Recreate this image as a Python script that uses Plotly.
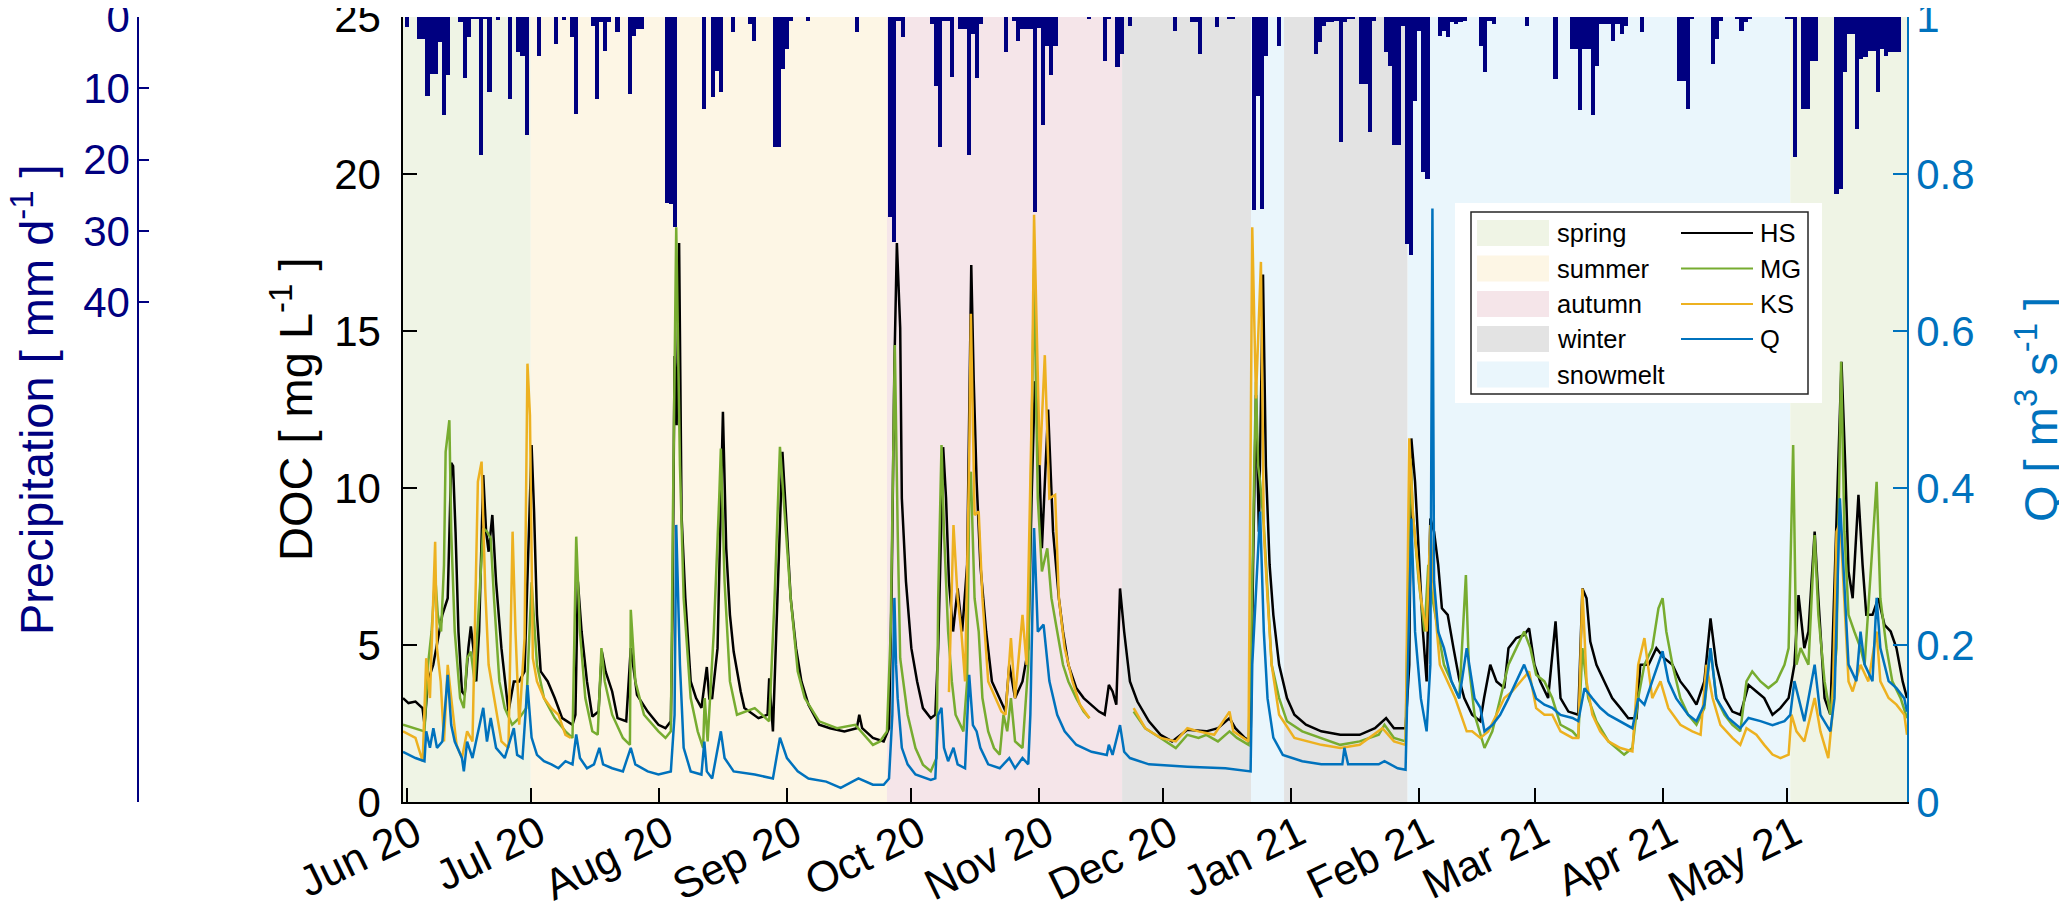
import pandas as pd
import plotly.graph_objects as go

START = pd.Timestamp("2020-06-01")   # day 0 of every *_day list below
PAGE_W, PAGE_H = 2067, 904
BODY = 8                             # default <body> margin of the html page
W, H = PAGE_W - BODY, PAGE_H - BODY
FONT = "Liberation Sans, Arial, sans-serif"
NAVY = "#000080"
BLUE = "#0072BD"

# x axis
month_ticks = ["2020-06-01", "2020-07-01", "2020-08-01", "2020-09-01", "2020-10-01", "2020-11-01",
               "2020-12-01", "2021-01-01", "2021-02-01", "2021-03-01", "2021-04-01", "2021-05-01"]
month_labels = ["Jun 20", "Jul 20", "Aug 20", "Sep 20", "Oct 20", "Nov 20",
                "Dec 20", "Jan 21", "Feb 21", "Mar 21", "Apr 21", "May 21"]
x_range_days = [-0.92, 363.05]

# seasons (edges in days since 1 Jun 2020)
season_names = ["spring", "summer", "autumn", "winter", "snowmelt", "winter", "snowmelt", "spring"]
season_edges = [-0.92, 30.0, 116.2, 173.1, 204.3, 212.3, 242.2, 334.8, 363.05]
season_colors = {"spring": "#eff4e5", "summer": "#fdf6e5", "autumn": "#f5e5e9",
                 "winter": "#e3e3e3", "snowmelt": "#eaf6fc"}

# daily precipitation [mm d-1], one value per day from 1 Jun 2020
precip_mm = (
    [1.4, 0, 0, 3.1, 3.1, 11.0, 8.0, 8.0, 3.5, 13.8, 8.1, 0, 0, 0.7, 8.6, 2.8, 0.3, 0.3, 19.4, 0.3,
     10.5, 0, 0.4, 0, 0, 11.5, 0, 4.9, 5.4, 16.6]  # Jun
    + [0, 0, 5.4, 0, 0, 0, 3.8, 0, 0.4, 0, 2.8, 13.6, 0, 0, 0, 1.2, 11.5, 0.7, 4.7, 0.7, 0, 2.1, 0, 0,
       10.8, 2.6, 1.7, 1.7, 0, 0, 0]  # Jul
    + [0, 0, 26.0, 26.2, 29.4, 0, 0, 0, 0, 0, 0, 12.9, 0, 11.2, 7.5, 10.5, 0, 0, 2.1, 0, 0, 0, 1.0, 3.3,
       0, 0, 0, 0, 18.2, 18.2, 7.3]  # Aug
    + [4.5, 0.5, 0, 0, 0, 0.5, 0, 0, 0, 0, 0, 0, 0, 0, 0, 0, 0, 2.1, 0, 0, 0, 0, 0, 0, 0, 28.0, 31.5,
       0.5, 2.8, 0]  # Sep
    + [0, 0, 0, 0, 0, 1.0, 9.6, 18.2, 0.5, 0.5, 8.4, 0, 1.7, 1.7, 19.4, 2.4, 8.6, 1.0, 0, 0, 0, 0, 0,
       4.9, 0, 0.5, 3.3, 1.7, 1.7, 1.7, 27.3]  # Oct
    + [1.5, 15.2, 4.0, 8.1, 4.0, 0, 0, 0, 0, 0, 0, 0, 0.3, 0, 0, 0, 6.1, 0.3, 0, 7.0, 5.2, 0, 1.2, 0, 0,
       0, 0, 0, 0, 0]  # Nov
    + [0, 0, 0, 1.9, 0, 0, 0, 0.7, 0.7, 5.2, 0, 0, 0, 1.4, 0, 0, 0.3, 0.3, 0, 0, 0, 0, 27.1, 11.0, 26.9,
       5.4, 0, 0, 4.0, 0, 0]  # Dec
    + [0, 0, 0, 0, 0, 0, 5.2, 3.5, 1.2, 0.7, 0.7, 0.5, 17.5, 0.7, 0.3, 0.3, 0, 9.4, 9.4, 16.1, 0.5, 0, 0,
       4.9, 6.8, 18.0, 18.0, 1.2, 31.8, 33.4, 11.7]  # Jan
    + [2.0, 21.7, 22.7, 0, 0, 2.6, 1.9, 2.8, 0.7, 1.0, 0.7, 0.5, 0, 0, 0, 4.0, 7.7, 0.5, 1.0, 0, 0, 0, 0,
       0, 0, 0, 1.2, 0]  # Feb
    + [0, 0, 0, 0, 0, 8.7, 0, 0, 0, 4.5, 4.5, 13.1, 4.5, 4.5, 13.8, 6.8, 1.0, 1.0, 1.0, 3.3, 1.0, 2.4,
       1.2, 0, 0, 0, 2.1, 0, 0, 0, 0]  # Mar
    + [0, 0, 0, 0, 8.9, 8.9, 12.9, 0.3, 0, 0, 0, 0, 6.6, 3.1, 0.5, 0, 0, 0, 0.3, 1.9, 0.7, 0.3, 0, 0, 0,
       0, 0, 0, 0, 0]  # Apr
    + [0.3, 0.3, 19.6, 0, 12.9, 12.9, 6.1, 6.1, 0, 0, 0, 0, 24.8, 24.1, 7.7, 2.4, 2.4, 15.7, 5.9, 5.6,
       4.7, 4.7, 10.5, 4.5, 5.4, 4.9, 4.9, 4.9, 0]  # May
)

# DOC HS [mg L-1]
hs_day = [-0.92, 0.4, 2.1, 3.8, 4.3, 5.1, 6.4, 8.6, 9.9, 10.75, 11.2, 11.8, 12.5, 13.35, 14.0, 14.9, 15.5,
          16.1, 16.8, 17.5, 18.5, 19.2, 19.8, 20.7, 21.6, 22.9, 24.6, 25.9, 27.2, 28.5, 30.2, 30.8, 31.5,
          32.4, 34.1, 35.8, 37.6, 40.1, 40.8, 41.4, 42.3, 43.6, 44.9, 46.4, 47.2, 48.1, 49.7, 51.0, 53.1,
          54.2, 55.3, 55.7, 58.3, 60.9, 62.6, 63.9, 64.3, 64.8, 65.3, 65.9, 66.5, 67.4, 68.7, 70.0, 71.3,
          72.6, 73.2, 73.9, 75.2, 76.5, 77.3, 78.2, 79.1, 80.8, 81.7, 85.1, 87.3, 87.7, 88.6, 89.4, 90.9,
          92.0, 92.9, 94.2, 95.5, 97.2, 99.8, 102.4, 105.9, 108.9, 109.5, 110.2, 112.8, 115.4, 116.7,
          117.3, 118.0, 118.6, 119.4, 119.8, 120.8, 122.1, 123.5, 124.9, 126.8, 127.9, 128.6, 129.8,
          130.5, 131.2, 132.2, 133.3, 134.4, 135.6, 136.2, 136.6, 137.2, 137.9, 138.8, 140.2, 141.6,
          143.5, 144.9, 145.8, 147.2, 149.0, 150.4, 151.2, 152.0, 152.7, 153.7, 155.2, 156.4, 157.8,
          158.8, 160.1, 162.0, 163.8, 165.7, 167.5, 168.9, 169.9, 170.8, 171.7, 172.6, 173.6, 175.0,
          176.8, 179.6, 182.4, 185.2, 188.9, 193.5, 196.3, 199.1, 200.5, 202.8, 204.2, 204.8, 205.5,
          206.2, 207.2, 207.9, 208.8, 209.7, 211.1, 213.0, 214.8, 217.6, 221.3, 225.9, 230.6, 234.3,
          237.0, 238.9, 241.7, 242.6, 243.1, 244.0, 244.9, 245.9, 246.8, 247.7, 248.6, 249.6, 250.5,
          251.9, 253.3, 254.7, 255.9, 257.8, 259.8, 260.7, 262.2, 263.7, 265.6, 266.6, 268.5, 270.4,
          271.6, 272.9, 274.3, 276.2, 278.0, 279.2, 281.1, 283.5, 284.5, 285.5, 286.4, 287.9, 289.8,
          291.7, 293.7, 295.6, 297.6, 298.5, 300.5, 302.4, 304.3, 306.3, 308.2, 310.1, 312.1, 314.0,
          315.5, 316.9, 318.9, 320.8, 322.7, 324.7, 326.6, 328.5, 330.5, 332.4, 334.4, 335.8, 336.8,
          338.2, 339.2, 340.7, 341.6, 343.1, 344.5, 346.0, 347.2, 348.1, 348.9, 349.9, 351.3, 352.3,
          353.2, 354.7, 356.1, 357.6, 359.1, 360.5, 362.0, 363.05]
hs_doc = [3.31, 3.15, 3.2, 2.99, 2.46, 3.84, 4.37, 5.96, 6.49, 10.8, 10.7, 8.6, 5.43, 3.52, 3.41, 4.9, 5.59,
          4.9, 3.84, 5.43, 10.41, 8.6, 7.97, 9.14, 7.02, 4.9, 2.88, 3.84, 3.84, 4.16, 11.37, 9.25, 5.96,
          4.16, 3.84, 3.31, 2.67, 2.46, 2.78, 7.02, 5.43, 3.84, 2.72, 2.88, 4.79, 4.16, 3.52, 2.67, 2.57,
          4.9, 3.84, 3.41, 2.88, 2.46, 2.35, 2.57, 6.0, 14.2, 12.0, 17.8, 9.1, 6.5, 3.84, 3.31, 3.0,
          4.3, 3.3, 3.31, 4.9, 12.43, 8.08, 5.96, 4.79, 3.52, 2.99, 2.67, 2.78, 3.94, 2.25, 5.43, 11.15,
          8.6, 6.49, 4.9, 3.84, 3.1, 2.46, 2.35, 2.25, 2.35, 2.78, 2.35, 2.04, 1.93, 2.35,
          6.49, 13.9, 17.8, 15.1, 9.67, 7.02, 4.9, 3.84, 2.99, 2.67, 2.78, 4.9, 11.3,
          9.67, 7.02, 5.43, 6.8, 5.43, 7.55, 12.85, 17.1, 13.4, 10.2, 7.55, 5.43, 3.84,
          3.31, 2.88, 4.37, 3.31, 3.84, 4.9, 9.67, 13.4, 12.5, 8.08, 12.5, 8.61, 6.49,
          5.43, 4.37, 3.63, 3.31, 3.1, 2.88, 2.78, 3.73, 3.52, 3.1, 6.8, 5.43, 3.84,
          3.2, 2.57, 2.14, 1.93, 2.3, 2.25, 2.35, 2.67, 2.35, 2.04, 1.93, 7.55, 12.96,
          8.61, 16.8, 10.7, 7.55, 5.96, 4.37, 3.31, 2.78, 2.46, 2.25, 2.14, 2.14, 2.35,
          2.67, 2.35, 2.35, 4.37, 11.58, 10.2, 8.08, 5.43, 3.84, 9.03, 8.61, 7.55, 6.17,
          5.96, 4.9, 3.9, 3.31, 2.78, 2.57, 3.31, 4.37, 3.84, 3.63, 4.9, 5.22, 5.32,
          5.53, 4.37, 3.84, 3.31, 5.75, 3.31, 2.88, 2.78, 6.8, 6.49, 5.11, 4.37, 3.84,
          3.31, 2.99, 2.67, 2.67, 4.37, 4.37, 4.9, 4.58, 4.37, 3.84, 3.52, 3.1, 3.84,
          5.85, 4.37, 3.31, 2.88, 2.78, 3.73, 3.52, 3.31, 2.78, 2.99, 3.31, 4.37, 6.59,
          4.9, 5.43, 8.61, 6.49, 3.31, 2.78, 9.14, 14.02, 10.73, 7.34, 6.49, 9.78, 7.55,
          5.96, 5.96, 6.49, 5.64, 5.43, 4.9, 3.84, 3.31]

# DOC MG [mg L-1] (None = no data)
mg_day = [-0.92, 2.1, 4.27, 5.13, 6.0, 6.86, 7.5, 8.3, 9.0, 9.4, 10.3, 10.75, 11.6, 12.9, 13.8, 14.6, 15.5,
          16.4, 17.7, 18.5, 19.4, 20.3, 21.1, 22.4, 23.7, 25.5, 27.2, 28.9, 30.2, 31.5, 33.2, 35.8, 38.4,
          40.1, 41.0, 41.9, 43.2, 44.9, 46.2, 47.1, 47.9, 49.7, 52.3, 54.0, 54.2, 55.3, 57.4, 60.9, 62.6,
          63.9, 64.4, 65.2, 66.1, 67.0, 68.7, 70.4, 71.7, 72.1, 72.8, 74.3, 75.6, 76.0, 76.9, 78.2, 79.9,
          84.2, 87.7, 89.0, 90.3, 91.6, 92.9, 94.6, 96.3, 99.8, 104.1, 108.5, 112.8, 114.5, 116.2, 117.1,
          118.1, 118.8, 119.4, 121.2, 123.1, 124.9, 126.8, 128.2, 128.6, 129.4, 130.0, 131.0, 131.9,
          132.8, 134.7, 135.6, 136.1, 136.5, 137.4, 138.4, 139.3, 140.7, 142.1, 143.5, 144.4, 145.3,
          146.2, 147.2, 149.0, 150.4, 151.3, 151.8, 152.7, 153.7, 155.0, 156.0, 157.4, 158.8, 160.1,
          162.0, 163.8, 165.2, 170.0, 175.9, 178.7, 182.4, 186.1, 188.9, 191.6, 193.5, 196.3, 199.1,
          200.9, 203.7, 204.4, 205.1, 205.5, 206.0, 206.5, 207.4, 208.3, 209.3, 211.1, 213.0, 216.7,
          221.3, 225.9, 230.6, 235.2, 236.6, 238.9, 241.7, 242.1, 242.9, 243.5, 244.9, 246.3, 247.2,
          248.2, 249.6, 251.0, 252.8, 254.7, 256.3, 257.0, 258.4, 260.8, 262.7, 264.6, 266.6, 268.5,
          270.4, 271.9, 273.3, 275.3, 277.2, 279.2, 282.1, 283.5, 284.5, 285.9, 287.9, 290.8, 292.7,
          294.6, 296.6, 298.0, 299.5, 301.4, 302.9, 303.9, 304.8, 306.3, 308.2, 310.1, 312.1, 314.0,
          315.5, 316.9, 318.9, 320.8, 322.7, 324.2, 325.6, 327.6, 329.5, 331.5, 333.4, 334.4, 335.5,
          336.3, 337.3, 339.2, 340.7, 341.6, 343.1, 344.5, 346.0, 347.1, 347.9, 348.9, 350.3, 351.8,
          352.8, 355.7, 356.6, 358.1, 359.5, 361.5, 363.05]
mg_doc = [2.46, 2.35, 2.25, 4.37, 5.43, 7.23, 5.96, 5.43, 7.55, 11.15, 12.16, 8.61, 5.43, 3.31, 2.99, 4.58,
          4.79, 3.84, 6.8, 8.72, 8.61, 8.4, 6.49, 3.84, 2.99, 2.46, 2.67, 2.99, 7.0, 4.37, 3.31, 2.67,
          2.25, 2.04, 8.45, 5.43, 3.31, 2.25, 2.14, 4.9, 3.84, 2.78, 2.04, 1.82, 6.12, 3.84, 2.78, 2.25,
          2.04, 2.25, 9.14, 18.3, 10.73, 6.49, 3.31, 2.25, 1.72, 3.31, 1.93, 5.43, 9.67, 11.26, 7.02,
          3.84, 2.78, 2.99, 2.57, 6.49, 11.31, 9.03, 6.49, 4.16, 3.31, 2.57, 2.35, 2.46, 1.82, 1.93, 2.25,
          5.43, 14.55, 8.61, 4.58, 2.78, 1.72, 1.19, 0.98, 1.4, 6.49, 11.37, 8.61, 5.43, 3.84,
          2.78, 2.25, 3.84, 9.67, 10.52, 6.49, 5.43, 3.31, 2.25, 1.72, 1.51, 2.78, 2.25,
          3.31, 1.93, 1.72, 4.37, 12.85, 17.0, 9.67, 7.34, 8.08, 6.49, 5.43, 4.37, 3.84,
          3.31, 2.88, 2.67, None, 2.88, 2.35, 2.04, 1.72, 2.14, 2.04, 2.14, 1.93, 2.25,
          2.04, 1.82, 5.43, 10.73, 13.38, 10.73, 10.2, 8.82, 6.49, 4.37, 3.31, 2.57, 2.25,
          2.04, 1.82, 1.93, 2.14, 2.46, 2.04, 1.93, 5.43, 10.94, 9.14, 7.02, 5.43, 7.55,
          6.49, 5.43, 4.37, 3.84, 3.31, 7.23, 4.37, 2.78, 1.72, 2.25, 3.31, 4.37, 4.9,
          5.43, 4.9, 4.05, 3.84, 3.31, 2.46, 2.25, 2.04, 4.9, 3.31, 2.57, 1.93, 1.72,
          1.51, 1.72, 3.31, 4.37, 4.9, 6.17, 6.49, 5.43, 4.37, 3.31, 2.78, 2.46, 2.99,
          4.9, 3.31, 2.78, 2.46, 2.25, 3.84, 4.16, 3.84, 3.63, 3.84, 4.37, 4.9, 11.37,
          4.37, 4.9, 4.37, 8.5, 5.96, 3.84, 2.78, 4.9, 14.02, 8.61, 5.96, 5.43, 4.9,
          4.37, 10.2, 6.49, 4.9, 3.84, 3.31, 2.67]

# DOC KS [mg L-1] (None = no data)
ks_day = [-0.92, 2.1, 3.84, 4.7, 5.6, 6.86, 7.3, 8.2, 9.0, 9.9, 10.75, 12.05, 13.35, 14.6, 15.9, 17.2, 18.1,
          18.97, 19.8, 21.1, 22.9, 24.6, 25.6, 26.3, 27.2, 28.5, 29.2, 29.8, 30.5, 31.5, 33.2, 34.96, 36.7,
          38.4, 39.7, 85.0, 131.2, 132.3, 133.3, 134.2, 135.1, 136.1, 136.5, 137.4, 138.4, 139.3, 140.7,
          142.5, 143.9, 144.9, 146.2, 147.2, 149.0, 150.0, 151.3, 151.8, 153.2, 154.4, 155.5, 156.9,
          157.8, 159.2, 161.1, 162.9, 165.2, 170.0, 175.9, 178.7, 182.4, 186.1, 188.9, 191.6, 195.4,
          199.1, 200.0, 203.7, 204.6, 205.5, 206.7, 207.4, 208.3, 209.3, 211.1, 214.8, 221.3, 225.9,
          230.6, 236.1, 238.9, 241.7, 242.6, 243.5, 245.4, 246.8, 247.7, 248.6, 250.0, 251.9, 253.7,
          256.5, 257.8, 259.8, 261.7, 263.7, 265.6, 267.5, 269.5, 271.6, 273.3, 275.3, 277.2, 279.2,
          282.1, 283.5, 284.5, 285.5, 286.9, 288.8, 290.8, 293.7, 296.6, 298.0, 299.5, 301.4, 303.4,
          305.3, 308.2, 311.1, 313.1, 314.5, 316.0, 317.9, 320.8, 322.7, 324.2, 326.6, 328.5, 330.5,
          332.4, 334.4, 335.1, 336.3, 338.2, 340.7, 342.1, 344.0, 345.0, 346.0, 346.9, 347.9, 348.9,
          349.9, 351.8, 353.7, 355.7, 356.6, 358.6, 360.5, 362.4, 363.05]
ks_doc = [2.25, 2.04, 1.29, 4.58, 3.31, 8.29, 4.9, 3.84, 1.93, 4.37, 3.31, 1.82, 1.4, 2.25, 1.93, 10.2, 10.84,
          6.8, 4.37, 3.31, 1.93, 1.72, 8.61, 5.43, 2.46, 5.22, 13.96, 12.32, 4.58, 3.84, 3.31, 2.99, 2.78,
          2.14, 2.04, None, 3.5, 8.82, 6.49, 5.43, 3.84, 10.94, 15.55, 9.14, 9.25, 6.49, 3.84,
          3.31, 2.88, 2.78, 5.22, 3.31, 5.96, 4.37, 12.85, 18.7, 10.73, 14.23, 9.67, 9.78,
          6.49, 4.9, 3.84, 3.1, 2.67, None, 2.99, 2.35, 2.04, 1.93, 2.35, 2.25, 2.14,
          2.88, 2.25, 1.93, 18.3, 12.85, 17.2, 8.61, 6.49, 4.37, 2.78, 2.04, 1.82, 1.72,
          1.82, 2.35, 1.93, 1.82, 11.58, 9.14, 6.49, 5.43, 8.82, 6.49, 4.37, 3.84, 3.31,
          2.25, 2.25, 2.04, 2.25, 2.78, 3.31, 3.52, 3.84, 4.16, 2.99, 2.78, 2.78, 2.25,
          2.04, 2.04, 6.8, 3.84, 2.78, 2.25, 1.93, 1.72, 1.61, 4.37, 5.22, 3.31, 3.84,
          2.99, 2.46, 2.25, 2.14, 4.37, 3.31, 2.46, 2.04, 1.82, 2.35, 2.14, 1.82, 1.51,
          1.4, 1.51, 2.78, 2.25, 1.93, 3.31, 2.25, 1.4, 2.78, 8.61, 8.93, 6.49, 3.84,
          3.52, 4.37, 3.84, 5.43, 3.84, 3.31, 3.1, 2.78, 2.14]

# discharge Q [m3 s-1]
q_day = [-0.92, 2.1, 4.27, 4.7, 5.6, 6.43, 7.3, 8.6, 9.9, 10.75, 11.6, 13.35, 13.8, 14.6, 15.9, 17.2, 18.5,
         19.4, 20.3, 21.6, 23.7, 25.9, 26.7, 28.0, 29.2, 30.2, 31.5, 33.2, 35.0, 36.7, 38.4, 40.1, 41.0,
         41.9, 43.6, 45.3, 46.6, 47.5, 49.7, 52.3, 54.2, 55.3, 58.3, 60.9, 63.9, 64.8, 65.2, 66.1, 67.0,
         68.7, 71.3, 72.0, 72.6, 73.9, 76.0, 76.9, 79.1, 84.2, 88.6, 90.3, 92.0, 94.6, 97.2, 101.5, 105.0,
         109.3, 112.8, 115.4, 116.7, 117.5, 118.0, 118.4, 118.8, 119.8, 121.2, 123.1, 126.8, 127.9,
         128.6, 129.4, 130.0, 131.0, 132.3, 133.3, 135.1, 136.1, 137.0, 137.9, 138.8, 140.7, 143.5,
         145.8, 147.2, 149.0, 150.4, 150.9, 151.8, 152.7, 154.1, 155.5, 156.4, 157.4, 159.2, 162.0,
         165.7, 169.4, 169.9, 170.8, 172.6, 173.6, 175.0, 179.6, 188.9, 198.1, 204.2, 204.6, 206.5,
         207.4, 208.3, 209.7, 212.0, 216.7, 221.3, 226.4, 226.9, 227.8, 235.2, 236.6, 239.8, 241.7,
         242.1, 243.1, 244.0, 245.4, 246.8, 247.7, 248.2, 248.6, 249.6, 251.0, 252.8, 254.7, 256.5,
         258.4, 259.8, 260.8, 262.7, 264.6, 266.6, 268.5, 270.4, 271.9, 273.3, 275.3, 277.2, 279.2,
         282.1, 283.5, 285.0, 286.9, 288.8, 290.8, 293.7, 296.6, 298.0, 299.5, 301.4, 303.9, 305.3,
         307.2, 310.1, 312.1, 314.0, 315.5, 316.9, 319.8, 322.7, 324.7, 327.6, 330.5, 333.4, 334.8,
         335.8, 336.8, 338.2, 340.7, 342.1, 344.5, 345.5, 346.8, 347.9, 348.9, 350.8, 351.8, 352.8,
         354.7, 355.7, 356.6, 358.6, 360.5, 362.4, 363.05]
q_m3s = [0.064, 0.056, 0.052, 0.090, 0.069, 0.094, 0.069, 0.077, 0.162, 0.098, 0.077, 0.056, 0.039, 0.077,
         0.056, 0.090, 0.120, 0.077, 0.107, 0.069, 0.056, 0.094, 0.060, 0.056, 0.149, 0.082, 0.060, 0.052,
         0.048, 0.043, 0.052, 0.048, 0.086, 0.056, 0.043, 0.048, 0.069, 0.048, 0.043, 0.039, 0.069, 0.048,
         0.039, 0.035, 0.039, 0.111, 0.353, 0.175, 0.069, 0.039, 0.035, 0.077, 0.039, 0.030, 0.090, 0.056,
         0.039, 0.035, 0.030, 0.082, 0.056, 0.039, 0.030, 0.026, 0.018, 0.030, 0.022, 0.022, 0.030, 0.111,
         0.260, 0.175, 0.132, 0.069, 0.048, 0.035, 0.028, 0.030, 0.111, 0.120, 0.069, 0.052, 0.069, 0.048,
         0.043, 0.162, 0.098, 0.090, 0.069, 0.048, 0.043, 0.056, 0.043, 0.056, 0.048, 0.111, 0.349, 0.217,
         0.226, 0.154, 0.132, 0.111, 0.090, 0.073, 0.064, 0.060, 0.073, 0.060, 0.098, 0.064, 0.056, 0.048,
         0.045, 0.043, 0.039, 0.175, 0.370, 0.217, 0.132, 0.082, 0.060, 0.052, 0.048, 0.048, 0.069, 0.048,
         0.048, 0.052, 0.043, 0.041, 0.132, 0.361, 0.217, 0.132, 0.090, 0.175, 0.756, 0.281, 0.217, 0.196,
         0.154, 0.132, 0.196, 0.132, 0.120, 0.090, 0.098, 0.111, 0.132, 0.154, 0.175, 0.154, 0.132, 0.124,
         0.120, 0.111, 0.107, 0.103, 0.145, 0.132, 0.120, 0.111, 0.103, 0.094, 0.132, 0.124, 0.154, 0.192,
         0.154, 0.132, 0.111, 0.103, 0.124, 0.196, 0.132, 0.107, 0.094, 0.107, 0.103, 0.098, 0.103, 0.111,
         0.154, 0.132, 0.103, 0.175, 0.111, 0.090, 0.132, 0.387, 0.281, 0.175, 0.154, 0.217, 0.175, 0.154,
         0.260, 0.196, 0.154, 0.145, 0.132, 0.115]


def to_dates(days):
    return [START + pd.Timedelta(days=float(d)) for d in days]


# page pixel -> paper coords (plot area spans page x 0..2067, y 17..802)
def px(x):
    return (x - BODY) / W


def py(y):
    return (802 - y) / 785


shapes = []
for name, a, b in zip(season_names, season_edges[:-1], season_edges[1:]):
    shapes.append(dict(type="rect", xref="x", yref="paper", x0=to_dates([a])[0], x1=to_dates([b])[0],
                       y0=0, y1=1, fillcolor=season_colors[name], line=dict(width=0), layer="below"))

fig = go.Figure()
for label, days, vals, color in [("HS", hs_day, hs_doc, "#000000"),
                                 ("MG", mg_day, mg_doc, "#77AC30"),
                                 ("KS", ks_day, ks_doc, "#EDB120")]:
    fig.add_trace(go.Scatter(x=to_dates(days), y=vals, mode="lines", name=label,
                             line=dict(color=color, width=2.5), connectgaps=False))
fig.add_trace(go.Scatter(x=to_dates(q_day), y=q_m3s, mode="lines", name="Q", yaxis="y2",
                         line=dict(color=BLUE, width=2.5)))
fig.add_trace(go.Bar(x=to_dates(range(len(precip_mm))), y=precip_mm, yaxis="y3", width=86400000,
                     marker=dict(color=NAVY, line=dict(width=0)), name="P"))

# legend drawn by hand (two columns: seasons | series)
legend_rows = [233, 268.5, 304, 339, 374.5]
shapes.append(dict(type="rect", xref="paper", yref="paper", x0=px(1455), x1=px(1822), y0=py(403), y1=py(203),
                   fillcolor="white", line=dict(width=0), layer="above"))
shapes.append(dict(type="rect", xref="paper", yref="paper", x0=px(1471), x1=px(1808), y0=py(394), y1=py(212),
                   line=dict(color="#262626", width=1.5), layer="above"))
annotations = []
for row, name in zip(legend_rows, ["spring", "summer", "autumn", "winter", "snowmelt"]):
    shapes.append(dict(type="rect", xref="paper", yref="paper", x0=px(1477), x1=px(1549),
                       y0=py(row + 13), y1=py(row - 13), fillcolor=season_colors[name],
                       line=dict(width=0), layer="above"))
    annotations.append(dict(x=px(1555), y=py(row), xref="paper", yref="paper", text=name, showarrow=False,
                            xanchor="left", yanchor="middle", font=dict(size=25.5, color="black")))
for row, name, color in zip(legend_rows, ["HS", "MG", "KS", "Q"], ["#000000", "#77AC30", "#EDB120", BLUE]):
    shapes.append(dict(type="line", xref="paper", yref="paper", x0=px(1681), x1=px(1753), y0=py(row),
                       y1=py(row), line=dict(color=color, width=2), layer="above"))
    annotations.append(dict(x=px(1758), y=py(row), xref="paper", yref="paper", text=name, showarrow=False,
                            xanchor="left", yanchor="middle", font=dict(size=25.5, color="black")))

# axis titles
title_kw = dict(xref="paper", yref="paper", textangle=-90, showarrow=False, xanchor="center", yanchor="middle")
annotations += [
    dict(x=px(33), y=py(400), text="Precipitation [ mm d<sup>-1</sup> ]",
         font=dict(size=47, color=NAVY), **title_kw),
    dict(x=px(292), y=py(410), text="DOC [ mg L<sup>-1</sup> ]",
         font=dict(size=47, color="black"), **title_kw),
    dict(x=px(2037), y=py(410), text="Q [ m<sup>3</sup> s<sup>-1</sup> ]",
         font=dict(size=47, color=BLUE), **title_kw),
]

common = dict(showgrid=False, zeroline=False, ticks="inside", tickwidth=1.5, linewidth=1.5,
              showline=True, automargin=False, ticklabeloverflow="allow")
fig.update_layout(
    width=W, height=H, margin=dict(l=0, r=0, t=17 - BODY, b=H - (802 - BODY), pad=0),
    paper_bgcolor="white", plot_bgcolor="white", showlegend=False, bargap=0,
    font=dict(family=FONT, size=42, color="black"),
    xaxis=dict(domain=[px(403), px(1907)], type="date", range=to_dates(x_range_days),
               tickmode="array", tickvals=month_ticks, ticktext=month_labels, tickangle=-26,
               tickfont=dict(size=43), ticklen=14, tickcolor="black", linecolor="black",
               ticklabelstandoff=-12, ticklabelshift=8, **common),
    yaxis=dict(range=[0, 25], tickvals=[0, 5, 10, 15, 20, 25], ticklen=14, tickcolor="black",
               linecolor="black", ticklabelstandoff=12, **common),
    yaxis2=dict(overlaying="y", side="right", anchor="x", range=[0, 1],
                tickvals=[0, 0.2, 0.4, 0.6, 0.8, 1], ticktext=["0", "0.2", "0.4", "0.6", "0.8", "1"],
                ticklen=14, tickcolor=BLUE, linecolor=BLUE, tickfont=dict(color=BLUE),
                ticklabelstandoff=-1, **common),
    yaxis3=dict(overlaying="y", anchor="free", position=px(138), side="left", range=[110, 0],
                tickvals=[0, 10, 20, 30, 40], ticklen=10, tickcolor=NAVY, linecolor=NAVY,
                tickfont=dict(color=NAVY), ticklabelstandoff=-1, **common),
    shapes=shapes, annotations=annotations,
)

fig.write_html("out.html")
